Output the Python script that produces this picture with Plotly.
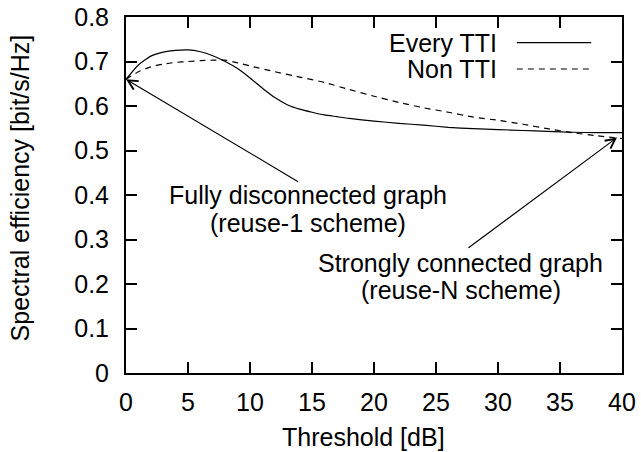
import plotly.graph_objects as go

# ---- data ----
every_x = [0, 1, 2, 3, 4, 5, 6, 7, 8, 9, 10, 11, 12, 13, 14, 15, 16, 17, 18, 20, 22, 24, 26, 28, 30, 32, 34, 36, 38, 40]
every_y = [0.660, 0.692, 0.712, 0.721, 0.725, 0.726, 0.722, 0.713, 0.700, 0.684, 0.663, 0.640, 0.619, 0.603,
           0.593, 0.586, 0.580, 0.576, 0.572, 0.566, 0.561, 0.557, 0.552, 0.549, 0.547, 0.545, 0.543, 0.541, 0.540, 0.540]

non_x = [0, 1, 2, 3, 4, 5, 6, 7, 8, 9, 10, 12, 14, 16, 18, 20, 22, 24, 26, 28, 30, 32, 34, 36, 38, 40]
non_y = [0.660, 0.677, 0.688, 0.694, 0.698, 0.700, 0.702, 0.703, 0.703, 0.697, 0.690, 0.677, 0.665, 0.653,
         0.637, 0.622, 0.608, 0.596, 0.586, 0.575, 0.568, 0.559, 0.549, 0.540, 0.533, 0.527]

series_names = ["Every TTI", "Non TTI"]

x_ticks = [0, 5, 10, 15, 20, 25, 30, 35, 40]
y_ticks = [0, 0.1, 0.2, 0.3, 0.4, 0.5, 0.6, 0.7, 0.8]
y_tick_labels = ["0", "0.1", "0.2", "0.3", "0.4", "0.5", "0.6", "0.7", "0.8"]

x_title = "Threshold [dB]"
y_title = "Spectral efficiency [bit/s/Hz]"

# annotation arrows: (tip x, tip y, tail x, tail y)
arrow1 = (0, 0.660, 14.0, 0.428)
arrow2 = (39.6, 0.529, 27.5, 0.279)
label1 = ["Fully disconnected graph", "(reuse-1 scheme)"]
label1_pos = (14.7, [0.399, 0.337])
label2 = ["Strongly connected graph", "(reuse-N scheme)"]
label2_pos = (27.0, [0.248, 0.187])

FONT = "Liberation Sans, Arial, Helvetica, sans-serif"
FS = 25

fig = go.Figure()
fig.add_trace(go.Scatter(x=every_x, y=every_y, mode="lines", name=series_names[0],
                         line=dict(color="black", width=1.2, shape="spline", smoothing=0.5)))
fig.add_trace(go.Scatter(x=non_x, y=non_y, mode="lines", name=series_names[1],
                         line=dict(color="black", width=1.2, dash="6px,5px", shape="spline", smoothing=0.5)))

annotations = []
for (tx, ty, ax, ay) in [arrow1, arrow2]:
    annotations.append(dict(x=tx, y=ty, ax=ax, ay=ay, xref="x", yref="y", axref="x", ayref="y",
                            text="", showarrow=True, arrowhead=5, arrowsize=1.6, arrowwidth=1.2,
                            arrowcolor="black", standoff=0))
for lines, (lx, lys) in [(label1, label1_pos), (label2, label2_pos)]:
    for t, ly in zip(lines, lys):
        annotations.append(dict(x=lx, y=ly, xref="x", yref="y", text=t, showarrow=False,
                                xanchor="center", yanchor="middle",
                                font=dict(family=FONT, size=FS, color="black")))

# axis titles
annotations.append(dict(x=0.478, y=-0.180, xref="paper", yref="paper", text=x_title, showarrow=False,
                        xanchor="center", yanchor="middle", font=dict(family=FONT, size=FS, color="black")))
annotations.append(dict(x=-0.214, y=0.521, xref="paper", yref="paper", text=y_title, showarrow=False,
                        textangle=-90, xanchor="center", yanchor="middle",
                        font=dict(family=FONT, size=FS, color="black")))

# manual legend (text left of sample line, right-aligned)
leg_y = [0.928, 0.854]
leg_text_x = 0.752
leg_line = (0.788, 0.938)
dashes = ["solid", "6px,5px"]
shapes = []
for name, yy, d in zip(series_names, leg_y, dashes):
    annotations.append(dict(x=leg_text_x, y=yy, xref="paper", yref="paper", text=name, showarrow=False,
                            xanchor="right", yanchor="middle",
                            font=dict(family=FONT, size=FS, color="black")))
    shapes.append(dict(type="line", xref="paper", yref="paper", x0=leg_line[0], x1=leg_line[1],
                       y0=yy, y1=yy, line=dict(color="black", width=1.2, dash=d)))

fig.update_layout(
    template="none",
    width=641, height=452,
    margin=dict(l=126, r=19, t=17, b=79),
    paper_bgcolor="white", plot_bgcolor="white",
    showlegend=False,
    font=dict(family=FONT, size=FS, color="black"),
    annotations=annotations, shapes=shapes,
)
fig.update_xaxes(range=[0, 40], tickvals=x_ticks, ticks="inside", ticklen=11, tickwidth=1.5,
                 tickcolor="black", showline=True, linecolor="black", linewidth=2, mirror="ticks",
                 showgrid=False, zeroline=False, ticklabelstandoff=6, automargin=False)
fig.update_yaxes(range=[0, 0.8], tickvals=y_ticks, ticktext=y_tick_labels, ticks="inside", ticklen=11,
                 tickwidth=1.5, tickcolor="black", showline=True, linecolor="black", linewidth=2,
                 mirror="ticks", showgrid=False, zeroline=False, ticklabelstandoff=10, automargin=False)

fig.write_html("out.html")
